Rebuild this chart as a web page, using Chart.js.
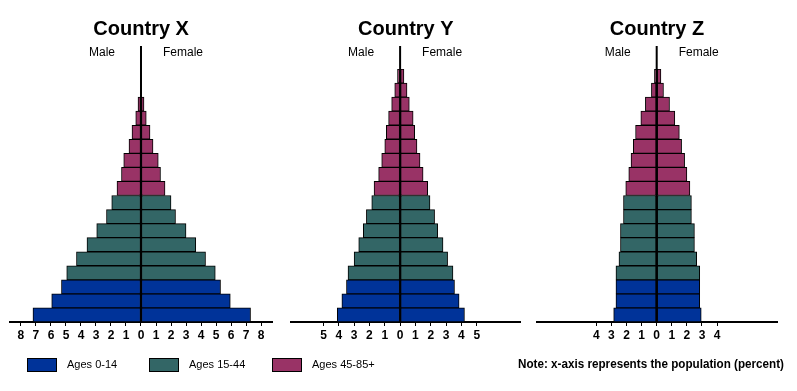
<!DOCTYPE html>
<html>
<head>
<meta charset="utf-8">
<script src="https://cdn.jsdelivr.net/npm/chart.js@4"></script>
<style>
  html, body { margin:0; padding:0; background:#fff; }
  body { width:797px; height:391px; position:relative; overflow:hidden; font-family:"Liberation Sans", Arial, sans-serif; }
  canvas { position:absolute; top:0; }
  .box { position:absolute; width:28px; height:12px; border:1px solid #000; }
  .lt { position:absolute; font-size:11px; line-height:14px; color:#000; white-space:nowrap; }
  .note { position:absolute; left:518px; top:357px; font-family:"Liberation Sans", Arial, sans-serif; font-weight:bold; font-size:12.5px; line-height:15px; color:#000; white-space:nowrap; transform-origin:0 50%; display:inline-block; }
</style>
</head>
<body>
<canvas id="cx" width="282" height="360" style="left:0px"></canvas>
<canvas id="cy" width="250" height="360" style="left:281px"></canvas>
<canvas id="cz" width="262" height="360" style="left:527px"></canvas>
<div id="legend"></div>
<div class="note" id="note">Note: x-axis represents the population (percent)</div>
<script>
// ---- data ----
const ages = ['0-4','5-9','10-14','15-19','20-24','25-29','30-34','35-39','40-44',
              '45-49','50-54','55-59','60-64','65-69','70-74','75-79','80-84','85+'];
const ageGroupNames = ['Ages 0-14', 'Ages 15-44', 'Ages 45-85+'];
const ageGroupOfRow = [0,0,0, 1,1,1,1,1,1, 2,2,2,2,2,2,2,2,2];

const countryXMale   = [7.2, 5.95, 5.3, 4.95, 4.3, 3.6, 2.95, 2.3, 1.95, 1.6, 1.3, 1.15, 0.8, 0.6, 0.35, 0.2, null, null];
const countryXFemale = [7.3, 5.95, 5.3, 4.95, 4.3, 3.65, 3.0, 2.3, 2.0, 1.6, 1.3, 1.15, 0.8, 0.6, 0.35, 0.2, null, null];

const countryYMale   = [4.1, 3.8, 3.5, 3.4, 3.0, 2.7, 2.4, 2.2, 1.85, 1.7, 1.4, 1.2, 1.0, 0.9, 0.75, 0.55, 0.35, 0.17];
const countryYFemale = [4.2, 3.85, 3.55, 3.45, 3.1, 2.8, 2.45, 2.25, 1.95, 1.8, 1.5, 1.3, 1.1, 0.95, 0.85, 0.6, 0.45, 0.25];

const countryZMale   = [2.85, 2.7, 2.7, 2.7, 2.5, 2.4, 2.4, 2.2, 2.2, 2.05, 1.85, 1.7, 1.55, 1.4, 1.05, 0.75, 0.35, 0.15];
const countryZFemale = [2.95, 2.85, 2.85, 2.85, 2.65, 2.5, 2.5, 2.3, 2.3, 2.2, 2.0, 1.85, 1.65, 1.5, 1.2, 0.85, 0.45, 0.28];

const ticksX = [-8,-7,-6,-5,-4,-3,-2,-1,0,1,2,3,4,5,6,7,8];
const ticksY = [-5,-4,-3,-2,-1,0,1,2,3,4,5];
const ticksZ = [-4,-3,-2,-1,0,1,2,3,4];

// ---- styles ----
const groupColors = ['#003399', '#336666', '#993366'];
const FONT = '"Liberation Sans", Arial, sans-serif';
const rowColors = ageGroupOfRow.map(g => groupColors[g]);

const centerPlugin = {
  id: 'centerLine',
  afterDatasetsDraw(chart) {
    const ctx = chart.ctx;
    const x = chart.scales.x.getPixelForValue(0);
    ctx.save();
    ctx.strokeStyle = '#000';
    ctx.lineWidth = 2;
    ctx.beginPath();
    ctx.moveTo(x, 46);
    ctx.lineTo(x, chart.chartArea.bottom);
    ctx.stroke();
    ctx.fillStyle = '#000';
    ctx.font = '12px ' + FONT;
    ctx.textAlign = 'center';
    ctx.textBaseline = 'middle';
    ctx.fillText('Male', x - 39, 53);
    ctx.fillText('Female', x + 42, 53);
    ctx.restore();
  }
};

function makePyramid(id, title, male, female, tickVals, min, max, padL, padR) {
  const common = {
    backgroundColor: rowColors,
    borderColor: '#000',
    borderWidth: 1,
    borderSkipped: false,
    barPercentage: 1,
    categoryPercentage: 1
  };
  new Chart(document.getElementById(id), {
    type: 'bar',
    data: {
      labels: ages,
      datasets: [
        Object.assign({ label: 'Male', data: male.map(v => v == null ? null : -v) }, common),
        Object.assign({ label: 'Female', data: female.slice() }, common)
      ]
    },
    options: {
      indexAxis: 'y',
      responsive: false,
      animation: false,
      layout: { padding: { left: padL, right: padR, top: 0, bottom: 0 } },
      plugins: {
        legend: { display: false },
        tooltip: { enabled: false },
        title: {
          display: true, text: title, color: '#000',
          font: { family: FONT, size: 20, weight: 'bold', lineHeight: 1.2 },
          padding: { top: 17, bottom: 28 }
        }
      },
      scales: {
        x: {
          stacked: true, min: min, max: max,
          border: { display: true, color: '#000', width: 2 },
          grid: { drawOnChartArea: false, drawTicks: true, tickLength: 4, color: '#000', lineWidth: 1 },
          ticks: {
            autoSkip: false, maxRotation: 0, color: '#000', padding: 2,
            font: { family: FONT, size: 12, weight: 'bold' },
            callback: v => String(Math.abs(v))
          },
          afterBuildTicks: s => { s.ticks = tickVals.map(v => ({ value: v })); },
          afterFit: s => { s.height = 38; }
        },
        y: { stacked: true, reverse: true, display: false }
      }
    },
    plugins: [centerPlugin]
  });
}

makePyramid('cx', 'Country X', countryXMale, countryXFemale, ticksX, -8.73, 8.75, 10, 9.7);
makePyramid('cy', 'Country Y', countryYMale, countryYFemale, ticksY, -7.12, 7.87, 10, 10.3);
makePyramid('cz', 'Country Z', countryZMale, countryZFemale, ticksZ, -7.93, 7.97, 10, 12);

// ---- legend ----
const legendPos = [27, 149, 272];
const leg = document.getElementById('legend');
ageGroupNames.forEach((name, i) => {
  const b = document.createElement('div');
  b.className = 'box';
  b.style.left = legendPos[i] + 'px';
  b.style.top = '358px';
  b.style.background = groupColors[i];
  leg.appendChild(b);
  const t = document.createElement('div');
  t.className = 'lt';
  t.style.left = (legendPos[i] + 40) + 'px';
  t.style.top = '357px';
  t.textContent = name;
  leg.appendChild(t);
});

// condense the note to its width in the reference
const note = document.getElementById('note');
const w = note.getBoundingClientRect().width;
if (w > 0) note.style.transform = 'scaleX(' + (266 / w) + ')';
</script>
</body>
</html>
